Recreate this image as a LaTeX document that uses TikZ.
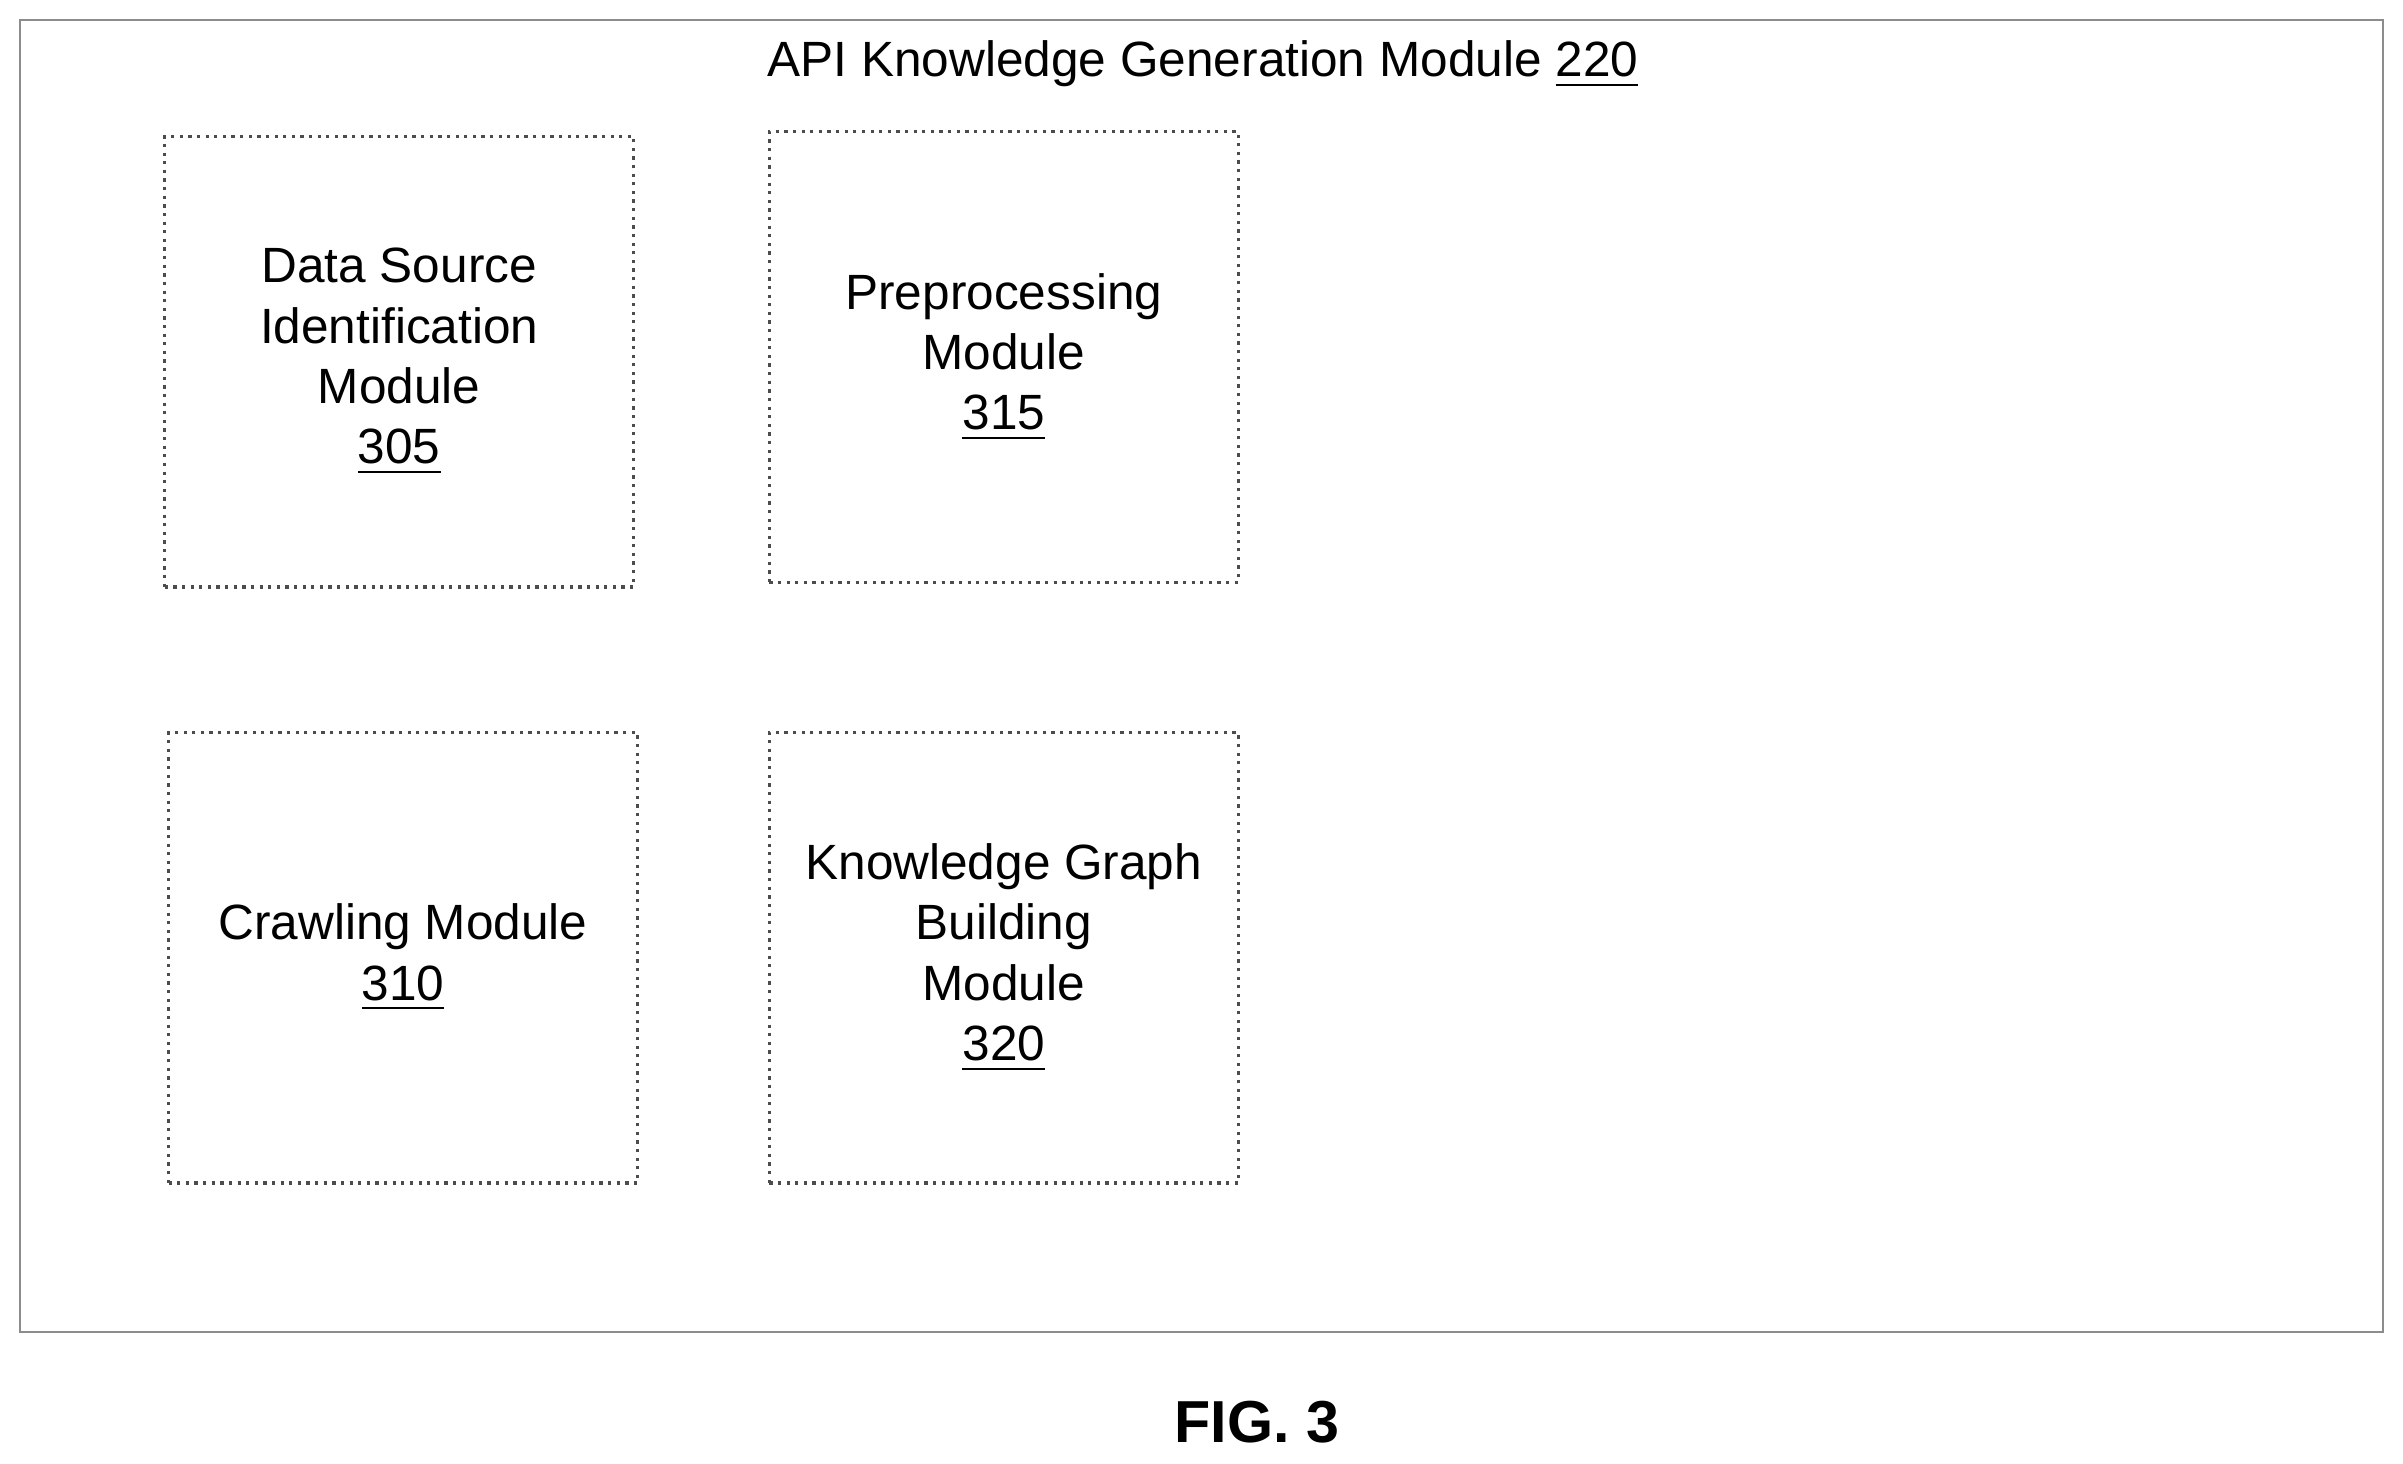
\documentclass[tikz,border=0pt]{standalone}
\usepackage{fontspec}
\setmainfont{Liberation Sans}
\usepackage{tikz}
\usetikzlibrary{positioning}

\tikzset{
  module/.style={draw=black!70, densely dotted, line width=0.6pt,
    minimum width=3.06cm, minimum height=2.94cm, align=center,
    font=\fontsize{9.2}{11.2}\selectfont},
}

\begin{document}
\begin{tikzpicture}[x=0.1mm, y=-0.1mm]
    % page size
    \useasboundingbox (0,0) rectangle (1568,955);

    % outer frame
    \draw[color=black!45, line width=0.4pt] (13,13) rectangle (1555,869);
    \node[font=\fontsize{9.2}{11.2}\selectfont] (title) at (785,42)
      {API Knowledge Generation Module \underline{220}};

    % modules
    \node[module] (dsi) at (260.5,236) {Data Source\\Identification\\Module\\\underline{305}};
    \node[module] (pre) at (655,233) {Preprocessing\\Module\\\underline{315}};
    \node[module] (crawl) at (263,625) {Crawling Module\\\underline{310}};
    \node[module] (kg) at (655,625) {Knowledge Graph\\Building\\Module\\\underline{320}};

    % caption
    \node[font=\fontsize{11}{13}\selectfont\bfseries] (fig) at (820,928) {FIG. 3};
\end{tikzpicture}
\end{document}
